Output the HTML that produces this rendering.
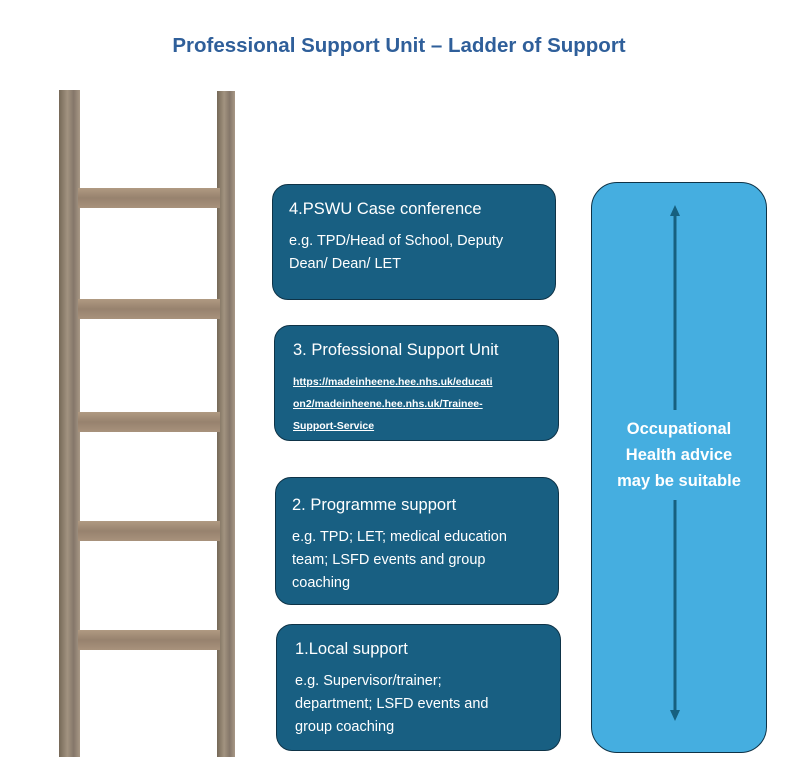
<!DOCTYPE html>
<html><head><style>
body{margin:0;width:798px;height:769px;background:#fff;position:relative;overflow:hidden;font-family:"Liberation Sans",sans-serif}
.t{position:absolute;left:0;width:798px;top:34px;text-align:center;color:#2f5f9a;font-weight:bold;font-size:20.5px}
.b{position:absolute;background:#185f82;border:1.5px solid #0e3347;border-radius:16px;color:#fff;box-sizing:border-box;padding:15px 0 0 16px}
.b h{display:block;font-size:16.5px;margin-bottom:11px}
.b p{margin:0;font-size:14.5px;line-height:23px}
.b a{color:#fff;font-size:10.5px;line-height:22px;text-decoration:underline;font-weight:bold}
.rail{position:absolute;background:linear-gradient(90deg,#756857,#a29380 40%,#85776a 70%,#a89886)}
.rung{position:absolute;left:78px;width:142px;height:20px;background:linear-gradient(180deg,#b09a82,#97826e 50%,#a8927c)}
</style></head><body>
<div class="t">Professional Support Unit – Ladder of Support</div>
<div class="rail" style="left:59px;top:90px;width:21px;height:667px"></div>
<div class="rail" style="left:217px;top:91px;width:18px;height:666px"></div>
<div class="rung" style="top:188px"></div>
<div class="rung" style="top:299px"></div>
<div class="rung" style="top:412px"></div>
<div class="rung" style="top:521px"></div>
<div class="rung" style="top:630px"></div>
<div class="b" style="left:272px;top:184px;width:284px;height:116px"><h>4.PSWU Case conference</h><p>e.g. TPD/Head of School, Deputy<br>Dean/ Dean/ LET</p></div>
<div class="b" style="left:274px;top:325px;width:285px;height:116px;padding-left:18px"><h>3. Professional Support Unit</h><a>https://madeinheene.hee.nhs.uk/educati<br>on2/madeinheene.hee.nhs.uk/Trainee-<br>Support-Service</a></div>
<div class="b" style="left:275px;top:477px;width:284px;height:128px;padding-top:18px"><h>2. Programme support</h><p>e.g. TPD; LET; medical education<br>team; LSFD events and group<br>coaching</p></div>
<div class="b" style="left:276px;top:624px;width:285px;height:127px;padding-left:18px"><h>1.Local support</h><p>e.g. Supervisor/trainer;<br>department; LSFD events and<br>group coaching</p></div>
<div style="position:absolute;left:591px;top:182px;width:176px;height:571px;background:#45aee0;border:1.5px solid #0e3347;border-radius:26px;box-sizing:border-box"></div>
<svg style="position:absolute;left:0;top:0" width="798" height="769">
<g stroke="#16607f" stroke-width="3"><line x1="675" y1="214" x2="675" y2="410"/><line x1="675" y1="500" x2="675" y2="712"/></g>
<g fill="#16607f"><polygon points="670,216 680,216 675,205"/><polygon points="670,710 680,710 675,721"/></g>
</svg>
<div style="position:absolute;left:591px;top:416px;width:176px;text-align:center;color:#fff;font-weight:bold;font-size:16.5px;line-height:26px">Occupational<br>Health advice<br>may be suitable</div>
</body></html>
